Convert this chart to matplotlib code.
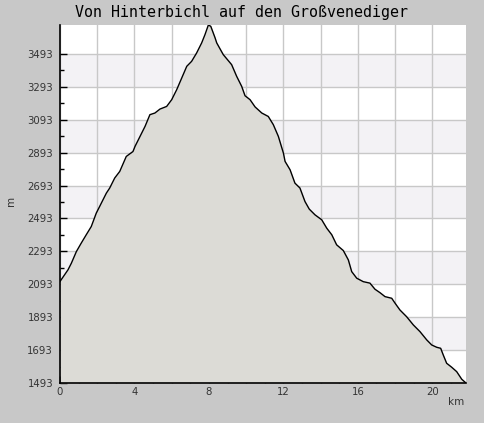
import numpy as np
import matplotlib
matplotlib.use('Agg')
import matplotlib.pyplot as plt
from matplotlib.ticker import MultipleLocator, FixedLocator

title = 'Von Hinterbichl auf den Großvenediger'

# distance (km) and elevation (m)
km = [0.00, 0.43, 0.61, 0.88, 1.14, 1.41, 1.68, 1.95, 2.13, 2.49, 2.67, 2.94,
      3.21, 3.56, 3.92, 4.03, 4.30, 4.57, 4.83, 5.10, 5.37, 5.73, 6.00, 6.27,
      6.54, 6.81, 7.07, 7.34, 7.61, 7.79, 7.97, 8.10, 8.33, 8.42, 8.77, 9.22,
      9.49, 9.76, 9.94, 10.21, 10.48, 10.84, 11.19, 11.46, 11.73, 12.00, 12.09,
      12.36, 12.62, 12.89, 13.16, 13.39, 13.70, 14.06, 14.33, 14.60, 14.86,
      15.22, 15.49, 15.67, 15.94, 16.29, 16.65, 16.92, 17.19, 17.46, 17.82,
      18.00, 18.26, 18.62, 18.98, 19.34, 19.70, 19.97, 20.24, 20.45, 20.59,
      20.77, 21.04, 21.31, 21.58, 21.81]
elev = [2110, 2181, 2221, 2292, 2343, 2394, 2444, 2526, 2566, 2647, 2678, 2739,
        2779, 2870, 2900, 2931, 2992, 3053, 3124, 3134, 3158, 3174, 3215, 3276,
        3347, 3418, 3448, 3499, 3560, 3611, 3669, 3661, 3591, 3560, 3489, 3428,
        3357, 3296, 3239, 3215, 3171, 3134, 3113, 3063, 2992, 2891, 2840,
        2789, 2708, 2678, 2596, 2550, 2515, 2485, 2434, 2394, 2333,
        2298, 2241, 2170, 2130, 2109, 2100, 2063, 2042, 2018, 2008,
        1978, 1937, 1896, 1846, 1805, 1755, 1724, 1710, 1704, 1663,
        1613, 1589, 1562, 1516, 1493]

ymin = min(elev)
ymax = max(elev)
xmax = max(km)

fig = plt.figure(figsize=(4.85, 4.23), dpi=100, facecolor='#c8c8c8')
ax = fig.add_axes([60/485, 40/423, 406/485, 358/423])
ax.set_facecolor('white')

# alternating bands
yticks = np.arange(ymin, ymax + 1, 200)
for i, y0 in enumerate(yticks):
    if (len(yticks) - 1 - i) % 2 == 1:
        ax.axhspan(y0, y0 + 200, color='#f3f2f5', zorder=0, lw=0)

ax.grid(True, which='major', color='#c8c8c8', lw=1, zorder=1)
ax.set_axisbelow(True)

ax.fill_between(km, elev, ymin, color='#dcdbd6', zorder=2, lw=0)
ax.plot(km, elev, color='black', lw=1, zorder=3)

ax.set_xlim(0, xmax)
ax.set_ylim(ymin, ymax)

ax.yaxis.set_major_locator(FixedLocator(yticks))
ax.yaxis.set_minor_locator(FixedLocator(yticks[:-1] + 100))
ax.set_yticklabels([str(int(v)) for v in yticks])

ax.xaxis.set_major_locator(MultipleLocator(2))
ax.xaxis.set_minor_locator(MultipleLocator(1))
ax.set_xticklabels(['' if int(round(v)) % 4 else str(int(round(v)))
                    for v in ax.get_xticks()])

ax.tick_params(which='major', direction='in', length=5, width=1, color='black',
               labelsize=7.3, labelcolor='#333333', pad=4)
ax.tick_params(which='minor', direction='in', length=3, width=1, color='black')
ax.tick_params(axis='y', pad=5)
ax.tick_params(axis='x', pad=3)

for s in ['top', 'right']:
    ax.spines[s].set_visible(False)
for s in ['left', 'bottom']:
    ax.spines[s].set_color('black')
    ax.spines[s].set_linewidth(1.2)
    ax.spines[s].set_zorder(4)

fig.text(242/485, 1 - 13/423, title, ha='center', va='center',
         family='DejaVu Sans Mono', fontsize=10.8, color='black')
fig.text(11/485, 1 - 201/423, 'm', ha='center', va='center', rotation=90,
         fontsize=7.5, color='#333333')
fig.text(456/485, 1 - 402/423, 'km', ha='center', va='center',
         fontsize=7.5, color='#333333')

fig.savefig('out.png', dpi=100, facecolor=fig.get_facecolor())
